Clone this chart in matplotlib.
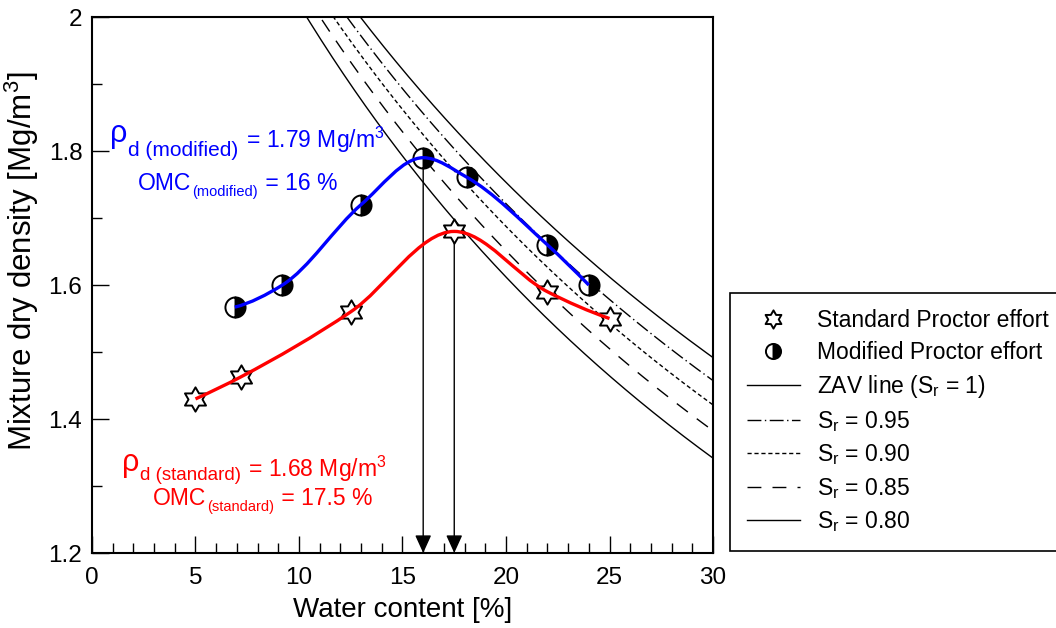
import numpy as np
import matplotlib
matplotlib.use("Agg")
import matplotlib.pyplot as plt
import matplotlib.transforms as mtransforms
from matplotlib.path import Path
from matplotlib.patches import PathPatch
from matplotlib.lines import Line2D
from matplotlib.ticker import MultipleLocator, FuncFormatter

plt.rcParams['font.family'] = ['Liberation Sans', 'DejaVu Sans']
plt.rcParams['mathtext.fontset'] = 'custom'
plt.rcParams['mathtext.rm'] = 'Liberation Sans'
plt.rcParams['mathtext.it'] = 'Liberation Sans:italic'
plt.rcParams['mathtext.bf'] = 'Liberation Sans:bold'
plt.rcParams['mathtext.default'] = 'regular'

# compaction test results (water content %, dry density Mg/m3)
w_standard = [5.0, 7.2, 12.5, 17.5, 22.0, 25.0]
rho_standard = [1.43, 1.463, 1.56, 1.68, 1.59, 1.55]
w_modified = [6.9, 9.2, 13.0, 16.0, 18.1, 22.0, 24.0]
rho_modified = [1.567, 1.60, 1.72, 1.79, 1.761, 1.66, 1.60]

# optimum points
omc_standard, rho_max_standard = 17.5, 1.68
omc_modified, rho_max_modified = 16.0, 1.79

# saturation lines
GS = 2.70
sr_levels = [1.0, 0.95, 0.90, 0.85, 0.80]
sr_labels = ['ZAV line (S$_\\mathrm{r}$ = 1)', 'S$_\\mathrm{r}$ = 0.95',
             'S$_\\mathrm{r}$ = 0.90', 'S$_\\mathrm{r}$ = 0.85', 'S$_\\mathrm{r}$ = 0.80']
sr_styles = ['-', (0, (10, 2.5, 1, 2.5)), (0, (3, 2)), (0, (10, 8)), '-']


def smooth_path(xs, ys):
    # monotone cubic (Fritsch-Carlson) through the points, as Bezier segments
    x = np.asarray(xs, float)
    y = np.asarray(ys, float)
    h = np.diff(x)
    d = np.diff(y) / h
    m = np.zeros_like(y)
    for k in range(1, len(x) - 1):
        if d[k - 1] * d[k] > 0:
            w1 = 2 * h[k] + h[k - 1]
            w2 = h[k] + 2 * h[k - 1]
            m[k] = (w1 + w2) / (w1 / d[k - 1] + w2 / d[k])

    def edge(h0, h1, d0, d1):
        e = ((2 * h0 + h1) * d0 - h0 * d1) / (h0 + h1)
        if np.sign(e) != np.sign(d0):
            return 0.0
        if np.sign(d0) != np.sign(d1) and abs(e) > 3 * abs(d0):
            return 3 * d0
        return e

    m[0] = edge(h[0], h[1], d[0], d[1])
    m[-1] = edge(h[-1], h[-2], d[-1], d[-2])
    verts = [(x[0], y[0])]
    codes = [Path.MOVETO]
    for i in range(len(x) - 1):
        t = h[i] / 3
        verts += [(x[i] + t, y[i] + m[i] * t),
                  (x[i + 1] - t, y[i + 1] - m[i + 1] * t),
                  (x[i + 1], y[i + 1])]
        codes += [Path.CURVE4] * 3
    return Path(verts, codes)


fig = plt.figure(figsize=(10.56, 6.28), dpi=100)
ax = fig.add_axes([0.0871, 0.1194, 0.5881, 0.8535])

w = np.linspace(0.10, 0.30, 300)
sr_handles = []
for sr, lab, ls in zip(sr_levels, sr_labels, sr_styles):
    rho = GS / (1 + w * GS / sr)
    ax.plot(w * 100, rho, color='k', lw=1.0, ls=ls, zorder=2)
    sr_handles.append(Line2D([], [], color='k', lw=1.0, ls=ls, label=lab))

# arrows down to the optimum moisture contents
for omc, rmax in [(omc_modified, rho_max_modified), (omc_standard, rho_max_standard)]:
    ax.annotate('', xy=(omc, 1.2), xytext=(omc, rmax),
                arrowprops=dict(arrowstyle='-|>,head_length=0.55,head_width=0.25',
                                color='k', lw=1.0, shrinkA=0, shrinkB=0,
                                mutation_scale=20), zorder=3)

hexagram = Path.unit_regular_star(6, 0.577)
h_std, = ax.plot(w_standard, rho_standard, ls='none', marker=hexagram, ms=17.5,
                 mfc='white', mec='k', mew=1.4, zorder=4,
                 label='Standard Proctor effort')
h_mod, = ax.plot(w_modified, rho_modified, ls='none', marker='o', ms=14.5,
                 fillstyle='right', mfc='black', mfcalt='white', mec='k',
                 mew=1.4, zorder=4, label='Modified Proctor effort')

ax.add_patch(PathPatch(smooth_path(w_modified, rho_modified), fill=False,
                       edgecolor='#0000ff', lw=2.4, zorder=5))
ax.add_patch(PathPatch(smooth_path(w_standard, rho_standard), fill=False,
                       edgecolor='#ff0000', lw=2.4, zorder=5))

ax.set_xlim(0, 30)
ax.set_ylim(1.2, 2.0)
ax.xaxis.set_major_locator(MultipleLocator(5))
ax.xaxis.set_minor_locator(MultipleLocator(1))
ax.yaxis.set_major_locator(MultipleLocator(0.2))
ax.yaxis.set_minor_locator(MultipleLocator(0.1))
ax.yaxis.set_major_formatter(FuncFormatter(lambda v, p: '%g' % round(v, 2)))
ax.tick_params(which='both', direction='in', top=False, right=False,
               width=1.0, labelsize=17.5)
ax.tick_params(axis='x', which='both', pad=10)
ax.tick_params(axis='y', which='both', pad=7)
ax.tick_params(which='major', length=12)
ax.tick_params(which='minor', length=7)
for s in ax.spines.values():
    s.set_linewidth(1.5)

ax.set_xlabel('Water content [%]', fontsize=20, labelpad=6)
ax.set_ylabel('Mixture dry density [Mg/m$^3$]', fontsize=22.5)
ax.yaxis.set_label_coords(-0.082, 0.545)


def text_run(x, y, pieces, color):
    # pieces: (text, size, vertical shift in pixels), laid out left to right
    r = fig.canvas.get_renderer()
    dx = 0.0
    for s, size, rise in pieces:
        tr = mtransforms.offset_copy(ax.transData, fig=fig, x=dx, y=rise, units='dots')
        t = ax.text(x, y, s, fontsize=size, color=color, transform=tr,
                    ha='left', va='baseline', zorder=6)
        dx += t.get_window_extent(r).width + 1


text_run(0.87, 1.8045, [('ρ', 22, 6), ('d (modified)', 15, -8),
                        (' = 1.79 Mg/m$^3$', 16.5, 0)], '#0000ff')
text_run(2.22, 1.742, [('OMC', 16.5, 0), ('(modified)', 10.5, -6),
                       (' = 16 %', 16.5, 0)], '#0000ff')
text_run(1.45, 1.3134, [('ρ', 22, 6), ('d (standard)', 13.5, -3),
                        (' = 1.68 Mg/m$^3$', 16.5, 0)], '#ff0000')
text_run(2.95, 1.2716, [('OMC', 16.5, 0), ('(standard)', 10.5, -6),
                        (' = 17.5 %', 16.5, 0)], '#ff0000')

leg = fig.legend(handles=[h_std, h_mod] + sr_handles, loc='upper left',
                 bbox_to_anchor=(730 / 1056, 1 - 293 / 628), borderaxespad=0,
                 fontsize=16.5, frameon=True, fancybox=False, framealpha=1,
                 edgecolor='k', handlelength=2.35, handletextpad=0.72,
                 labelspacing=0.38, borderpad=0.72, markerscale=0.75)
leg.get_frame().set_linewidth(1.2)

fig.savefig('out.png', dpi=100)
